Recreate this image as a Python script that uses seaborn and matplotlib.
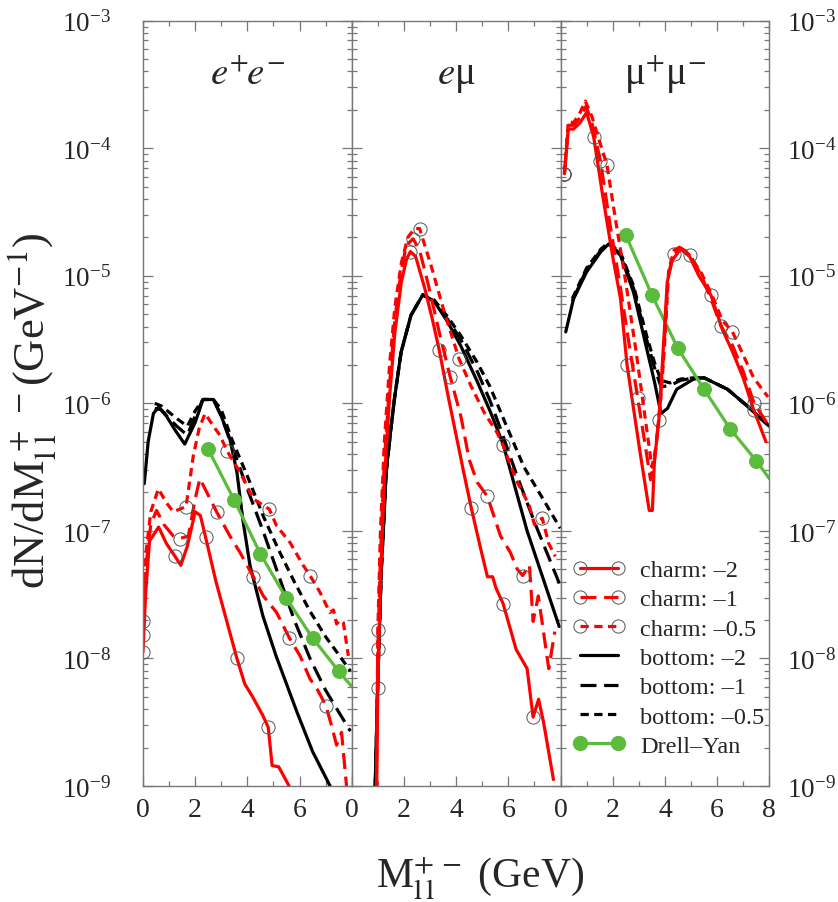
import numpy as np
import matplotlib
matplotlib.use("Agg")
import matplotlib.pyplot as plt
from matplotlib.lines import Line2D
from matplotlib.ticker import FixedLocator, LogFormatterMathtext, NullFormatter
import seaborn as sns

# Values, y given as log10(dN/dM)

# --- e+e- panel ---
ee_c2_m = [0.0, 0.1, 0.25, 0.6, 0.9, 1.23, 1.45, 1.7, 2.0, 2.2, 2.4, 2.8, 3.2, 3.6, 3.9, 4.2, 4.6, 4.8, 4.95, 5.2, 5.6]
ee_c2_lg = [-7.95, -7.5, -7.08, -6.97, -7.1, -7.2, -7.27, -7.12, -6.85, -6.88, -7.05, -7.4, -7.7, -8.0, -8.2, -8.3, -8.45, -8.54, -8.84, -8.85, -9.0]
ee_c1_m = [0.0, 0.1, 0.3, 0.52, 0.8, 1.16, 1.42, 1.74, 2.0, 2.18, 2.5, 2.82, 3.33, 3.72, 4.23, 4.61, 5.12, 5.61, 6.02, 6.4, 6.7, 7.01, 7.23, 7.42, 7.61, 7.8]
ee_c1_lg = [-7.82, -7.3, -6.95, -6.84, -6.95, -7.04, -7.06, -7.04, -6.75, -6.59, -6.72, -6.85, -7.04, -7.17, -7.36, -7.51, -7.64, -7.84, -7.98, -8.16, -8.25, -8.37, -8.53, -8.68, -8.58, -9.0]
ee_c05_m = [0.0, 0.1, 0.3, 0.59, 0.9, 1.16, 1.65, 1.93, 2.15, 2.38, 2.7, 2.95, 3.21, 3.72, 4.23, 4.84, 5.12, 5.63, 6.14, 6.4, 6.78, 7.16, 7.3, 7.42, 7.55, 7.68, 7.87]
ee_c05_lg = [-7.71, -7.2, -6.85, -6.67, -6.78, -6.85, -6.81, -6.41, -6.2, -6.08, -6.18, -6.25, -6.37, -6.54, -6.75, -6.83, -6.96, -7.09, -7.27, -7.35, -7.48, -7.64, -7.62, -7.73, -7.7, -7.72, -7.98]
ee_b2_m = [0.05, 0.2, 0.4, 0.6, 0.9, 1.2, 1.6, 2.0, 2.3, 2.7, 3.0, 3.33, 3.6, 3.84, 4.1, 4.6, 5.1, 5.9, 6.5, 7.17]
ee_b2_lg = [-6.63, -6.3, -6.08, -6.03, -6.1, -6.2, -6.32, -6.15, -5.97, -5.97, -6.1, -6.28, -6.54, -6.93, -7.27, -7.67, -7.98, -8.42, -8.73, -9.0]
ee_b1_m = [0.45, 0.7, 1.0, 1.3, 1.7, 2.0, 2.3, 2.7, 3.0, 3.4, 4.0, 4.6, 5.2, 5.8, 6.4, 7.0, 7.5, 7.95]
ee_b1_lg = [-6.04, -6.05, -6.12, -6.18, -6.25, -6.1, -5.97, -5.97, -6.1, -6.33, -6.67, -7.0, -7.35, -7.7, -8.0, -8.25, -8.42, -8.57]
ee_b05_m = [0.45, 0.7, 1.0, 1.3, 1.7, 2.0, 2.3, 2.7, 3.0, 3.4, 4.0, 4.6, 5.2, 5.8, 6.4, 7.0, 7.5, 7.95]
ee_b05_lg = [-6.0, -6.02, -6.07, -6.12, -6.18, -6.06, -5.97, -5.97, -6.05, -6.28, -6.57, -6.88, -7.15, -7.4, -7.63, -7.83, -7.97, -8.1]
ee_dy_m = [2.5, 3.5, 4.5, 5.5, 6.5, 7.5, 8.0]
ee_dy_lg = [-6.36, -6.76, -7.18, -7.53, -7.84, -8.10, -8.22]

# --- e mu panel ---
em_c2_m = [0.95, 1.0, 1.1, 1.25, 1.45, 1.65, 1.9, 2.1, 2.25, 2.45, 2.8, 3.1, 3.35, 3.7, 4.05, 4.3, 4.58, 4.94, 5.2, 5.4, 5.53, 5.8, 6.3, 6.72, 6.95, 7.16, 7.35, 7.73]
em_c2_lg = [-9.0, -8.23, -7.4, -6.6, -5.95, -5.45, -5.05, -4.87, -4.81, -4.85, -5.1, -5.35, -5.58, -5.95, -6.3, -6.55, -6.82, -7.14, -7.36, -7.36, -7.45, -7.57, -7.93, -8.08, -8.46, -8.32, -8.5, -8.95]
em_c1_m = [0.95, 1.0, 1.1, 1.25, 1.45, 1.65, 1.9, 2.1, 2.35, 2.6, 2.91, 3.35, 3.77, 4.18, 4.5, 4.81, 5.2, 5.7, 6.08, 6.34, 6.55, 6.81, 6.95, 7.15, 7.55, 7.78]
em_c1_lg = [-9.0, -7.93, -7.2, -6.45, -5.85, -5.35, -4.95, -4.76, -4.71, -4.8, -5.05, -5.44, -5.79, -6.1, -6.44, -6.62, -6.73, -7.04, -7.17, -7.3, -7.35, -7.27, -7.71, -7.51, -8.08, -7.79]
em_c05_m = [0.95, 1.0, 1.1, 1.25, 1.45, 1.65, 1.9, 2.15, 2.4, 2.6, 3.04, 3.54, 4.11, 4.56, 5.07, 5.57, 5.8, 6.3, 6.8, 7.0, 7.3, 7.55, 7.8]
em_c05_lg = [-9.0, -7.78, -7.0, -6.3, -5.7, -5.25, -4.9, -4.7, -4.63, -4.63, -4.92, -5.28, -5.65, -5.86, -6.07, -6.23, -6.33, -6.6, -6.8, -6.95, -6.9, -7.1, -7.2]
em_b2_m = [0.9, 1.0, 1.13, 1.32, 1.5, 1.64, 1.89, 2.27, 2.72, 3.16, 3.67, 4.18, 4.81, 5.32, 5.8, 6.72, 7.95]
em_b2_lg = [-9.0, -8.16, -7.32, -6.54, -6.2, -5.96, -5.6, -5.31, -5.15, -5.2, -5.36, -5.55, -5.83, -6.07, -6.32, -7.0, -7.75]
em_b1_m = [0.9, 1.0, 1.13, 1.32, 1.5, 1.64, 1.89, 2.27, 2.72, 3.16, 3.67, 4.18, 4.81, 5.3, 5.7, 6.3, 7.0, 7.99]
em_b1_lg = [-9.0, -8.16, -7.32, -6.54, -6.2, -5.96, -5.6, -5.31, -5.15, -5.2, -5.34, -5.5, -5.75, -5.98, -6.2, -6.55, -6.93, -7.43]
em_b05_m = [0.9, 1.0, 1.13, 1.32, 1.5, 1.64, 1.89, 2.27, 2.72, 3.16, 3.67, 4.18, 4.81, 5.3, 6.08, 6.6, 7.3, 7.99]
em_b05_lg = [-9.0, -8.16, -7.32, -6.54, -6.2, -5.96, -5.6, -5.31, -5.15, -5.19, -5.32, -5.47, -5.68, -5.87, -6.25, -6.5, -6.74, -6.98]

# --- mu+ mu- panel ---
mm_c2_m = [0.15, 0.3, 0.5, 0.75, 1.0, 1.27, 1.6, 2.0, 2.3, 2.55, 3.06, 3.4, 3.52, 3.6, 3.77, 3.9, 4.09, 4.28, 4.6, 4.95, 5.3, 5.76, 6.2, 6.6, 7.0, 7.4, 7.87]
mm_c2_lg = [-4.2, -3.85, -3.85, -3.8, -3.72, -3.91, -4.35, -4.85, -5.18, -5.7, -6.4, -6.84, -6.84, -6.45, -6.13, -5.7, -5.05, -4.88, -4.79, -4.85, -5.0, -5.15, -5.42, -5.6, -5.8, -6.05, -6.3]
mm_c1_m = [0.15, 0.3, 0.5, 0.75, 0.98, 1.2, 1.53, 1.9, 2.3, 2.6, 2.96, 3.3, 3.45, 3.6, 3.8, 3.95, 4.12, 4.33, 4.6, 4.95, 5.4, 5.8, 6.14, 6.6, 7.0, 7.42, 7.9]
mm_c1_lg = [-4.2, -3.82, -3.82, -3.76, -3.67, -3.8, -4.1, -4.6, -5.1, -5.5, -5.96, -6.4, -6.6, -6.45, -6.05, -5.6, -5.0, -4.83, -4.78, -4.83, -5.0, -5.2, -5.39, -5.55, -5.75, -6.0, -6.15]
mm_c05_m = [0.15, 0.3, 0.5, 0.75, 0.95, 1.2, 1.5, 1.78, 2.1, 2.5, 2.9, 3.3, 3.5, 3.65, 3.85, 4.0, 4.15, 4.35, 4.62, 4.95, 5.4, 5.8, 6.2, 6.59, 7.0, 7.4, 7.95]
mm_c05_lg = [-4.2, -3.79, -3.8, -3.72, -3.63, -3.75, -3.95, -4.13, -4.55, -5.05, -5.6, -6.2, -6.5, -6.35, -5.95, -5.5, -4.95, -4.8, -4.77, -4.84, -4.98, -5.15, -5.35, -5.44, -5.62, -5.8, -5.95]
mm_b2_m = [0.2, 0.5, 1.0, 1.55, 1.85, 2.3, 2.8, 3.3, 3.6, 3.85, 4.1, 4.45, 5.1, 5.5, 6.4, 7.15, 8.0]
mm_b2_lg = [-5.44, -5.18, -4.97, -4.81, -4.75, -4.84, -5.13, -5.57, -5.83, -6.08, -6.04, -5.89, -5.81, -5.80, -5.89, -6.02, -6.18]
mm_b1_m = [0.45, 1.0, 1.55, 1.85, 2.3, 2.8, 3.3, 3.6, 3.85, 4.2, 4.6, 5.1, 5.5, 6.4, 7.15, 8.0]
mm_b1_lg = [-5.2, -4.95, -4.8, -4.75, -4.83, -5.1, -5.5, -5.72, -5.87, -5.86, -5.82, -5.8, -5.80, -5.89, -6.02, -6.18]
mm_b05_m = [0.45, 1.0, 1.55, 1.85, 2.3, 2.8, 3.3, 3.6, 3.85, 4.2, 4.6, 5.1, 5.5, 6.4, 7.15, 8.0]
mm_b05_lg = [-5.18, -4.94, -4.79, -4.74, -4.82, -5.08, -5.47, -5.68, -5.82, -5.84, -5.81, -5.8, -5.80, -5.89, -6.02, -6.18]
mm_dy_m = [2.5, 3.5, 4.5, 5.5, 6.5, 7.5, 8.0]
mm_dy_lg = [-4.68, -5.15, -5.57, -5.89, -6.2, -6.45, -6.59]

panel_titles = [r"$e^{+\!}e^{-}$", r"$e$μ", r"μ$^{+}$μ$^{-}$"]
legend_labels = ["charm: –2", "charm: –1", "charm: –0.5", "bottom: –2",
                 "bottom: –1", "bottom: –0.5", "Drell–Yan"]
x_ticks = [0, 2, 4, 6, 8]
y_decades = [-9, -8, -7, -6, -5, -4, -3]

# styles
RED, BLACK, GREEN = "#ff0000", "#000000", "#5bbb3c"
LS_SOLID = "-"
LS_LONG = (0, (5, 2.4))
LS_SHORT = (0, (2.6, 1.7))
LW = 2.3

# which points carry the open circles
marks = {
    "ee": [[0, 5, 10, 13, 17], [0, 6, 11, 14, 17, 21], [0, 6, 12, 15, 19]],
    "em": [[1, 8, 12, 16, 21, 24], [1, 8, 12, 16, 20], [1, 9, 12, 16, 20]],
    "mm": [[0, 5, 9, 14, 21, 25], [0, 6, 10, 17, 22, 25], [0, 7, 19, 23]],
}

panels = [
    ("ee", [(ee_c2_m, ee_c2_lg), (ee_c1_m, ee_c1_lg), (ee_c05_m, ee_c05_lg)],
     [(ee_b2_m, ee_b2_lg), (ee_b1_m, ee_b1_lg), (ee_b05_m, ee_b05_lg)], (ee_dy_m, ee_dy_lg)),
    ("em", [(em_c2_m, em_c2_lg), (em_c1_m, em_c1_lg), (em_c05_m, em_c05_lg)],
     [(em_b2_m, em_b2_lg), (em_b1_m, em_b1_lg), (em_b05_m, em_b05_lg)], None),
    ("mm", [(mm_c2_m, mm_c2_lg), (mm_c1_m, mm_c1_lg), (mm_c05_m, mm_c05_lg)],
     [(mm_b2_m, mm_b2_lg), (mm_b1_m, mm_b1_lg), (mm_b05_m, mm_b05_lg)], (mm_dy_m, mm_dy_lg)),
]

sns.set_style("ticks")
plt.rcParams["font.family"] = ["Liberation Serif", "DejaVu Serif"]
plt.rcParams["mathtext.fontset"] = "stix"
plt.rcParams["axes.unicode_minus"] = True

fig, axes = plt.subplots(1, 3, figsize=(8.38, 9.03), dpi=100, sharey=True)
fig.subplots_adjust(left=0.1706, right=0.918, top=0.976, bottom=0.1285, wspace=0)

styles = [LS_SOLID, LS_LONG, LS_SHORT]
major_y = [10.0 ** d for d in y_decades]
minor_y = [k * 10.0 ** d for d in y_decades[:-1] for k in range(2, 10)]

for i, (ax, (key, charm, bottom, dy)) in enumerate(zip(axes, panels)):
    ax.set_yscale("log")
    for (m, lg), ls in zip(bottom, styles):
        sns.lineplot(x=np.array(m), y=10.0 ** np.array(lg), ax=ax, color=BLACK,
                     linewidth=LW, linestyle=ls, estimator=None, sort=False)
    if dy is not None:
        m, lg = dy
        sns.lineplot(x=np.array(m), y=10.0 ** np.array(lg), ax=ax, color=GREEN,
                     linewidth=LW, estimator=None, sort=False, marker="o",
                     markevery=list(range(len(m) - 1)), ms=10, mfc=GREEN, mec=GREEN)
    for (m, lg), ls, mk in zip(charm, styles, marks[key]):
        sns.lineplot(x=np.array(m), y=10.0 ** np.array(lg), ax=ax, color=RED,
                     linewidth=LW, linestyle=ls, estimator=None, sort=False,
                     marker="o", markevery=mk, ms=9.5, mfc="none", mec="#555555", mew=0.7)

    ax.set_xlim(0, 8)
    ax.set_ylim(1e-9, 1e-3)
    ax.set_xlabel("")
    ax.set_ylabel("")
    ax.xaxis.set_major_locator(FixedLocator(x_ticks))
    ax.xaxis.set_minor_locator(FixedLocator([1, 3, 5, 7]))
    ax.set_xticklabels([str(t) if (t < 8 or i == 2) else "" for t in x_ticks])
    ax.yaxis.set_major_locator(FixedLocator(major_y))
    ax.yaxis.set_minor_locator(FixedLocator(minor_y))
    ax.yaxis.set_major_formatter(LogFormatterMathtext())
    ax.yaxis.set_minor_formatter(NullFormatter())
    ax.tick_params(which="both", direction="in", top=True, right=True,
                   color="#777777", width=0.9)
    ax.tick_params(which="major", length=7)
    ax.tick_params(which="minor", length=3.5)
    ax.tick_params(axis="x", labelsize=20, pad=8)
    ax.tick_params(axis="y", labelsize=19.5, labelleft=(i == 0), labelright=(i == 2))
    if i == 0:
        ax.tick_params(axis="y", pad=23)
    if i == 2:
        ax.tick_params(axis="y", pad=13)
    for sp in ax.spines.values():
        sp.set_color("#777777")
        sp.set_linewidth(1.0)
    ax.text(0.5, 0.918, panel_titles[i], transform=ax.transAxes, ha="center",
            va="baseline", fontsize=28)

# legend in the right panel
handles = []
for ls in styles:
    handles.append(Line2D([], [], color=RED, lw=LW, linestyle=ls, marker="o", ms=9.5,
                          mfc="none", mec="#555555", mew=0.7))
for ls in styles:
    handles.append(Line2D([], [], color=BLACK, lw=LW, linestyle=ls))
handles.append(Line2D([], [], color=GREEN, lw=LW, marker="o", ms=10, mfc=GREEN, mec=GREEN))
axes[2].legend(handles, legend_labels, loc="lower left", bbox_to_anchor=(0.06, 0.038),
               frameon=False, fontsize=17.5, numpoints=2, handlelength=2.15,
               handletextpad=0.6, labelspacing=0.3, borderpad=0, borderaxespad=0)

fig.text(0.037, 0.545, r"dN/dM$_{\mathrm{l\,\,l}}^{\,+\,\,-}$(GeV$^{-1}$)", rotation=90,
         ha="center", va="center", fontsize=32)
fig.text(480 / 838, 0.016, r"M$_{\mathrm{l\,l}}^{+\,-}$ (GeV)", ha="center",
         va="baseline", fontsize=30)

fig.savefig("out.png", dpi=100)
